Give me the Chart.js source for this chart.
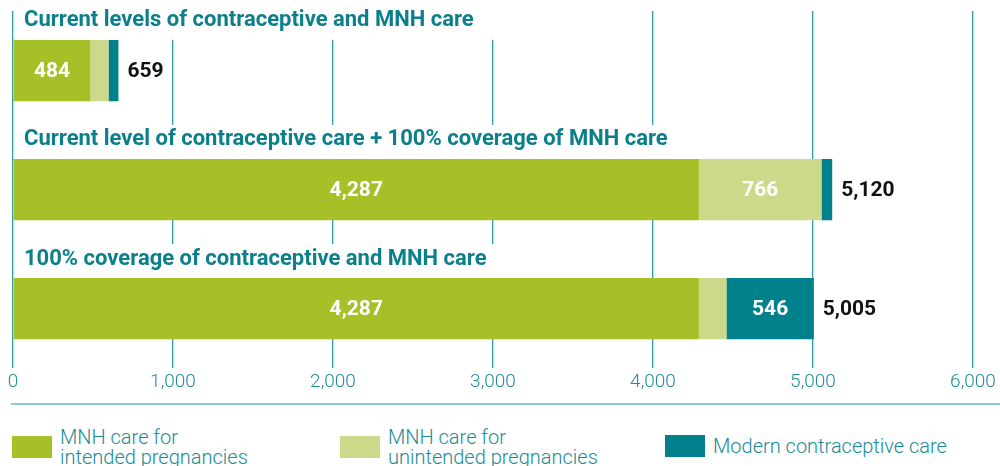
<!DOCTYPE html>
<html>
<head>
<meta charset="utf-8">
<script src="https://cdn.jsdelivr.net/npm/chart.js@4"></script>
<style>
  html, body { margin: 0; padding: 0; background: #fff; }
  #wrap { position: relative; width: 1000px; height: 466px; overflow: hidden; }
  #box { position: absolute; left: 0; top: 0; width: 1000px; height: 420px; }
  #rule { position: absolute; left: 11px; top: 403px; width: 989px; height: 2px; background: #8ccad1; }
  .leg { position: absolute; top: 427px; display: flex; align-items: center; font-family: Roboto, sans-serif; font-weight: 300; font-size: 20px; line-height: 20px; color: #1a8b96; }
  .leg i { display: block; width: 40px; height: 22px; margin-right: 8px; }
</style>
</head>
<body>
<div id="wrap">
  <div id="box"><canvas id="chart"></canvas></div>
  <div id="rule"></div>
  <div id="legend"></div>
</div>
<script>
// values
const categories = [
  'Current levels of contraceptive and MNH care',
  'Current level of contraceptive care + 100% coverage of MNH care',
  '100% coverage of contraceptive and MNH care'
];
const intended      = [484, 4287, 4287];
const unintended    = [113, 766, 172];
const contraceptive = [62, 67, 546];
const totals        = [659, 5120, 5005];
const xTicks        = [0, 1000, 2000, 3000, 4000, 5000, 6000];
const seriesNames = [
  ['MNH care for', 'intended pregnancies'],
  ['MNH care for', 'unintended pregnancies'],
  ['Modern contraceptive care']
];

const GREEN  = '#a6c027';
const LIGHT  = '#ccd98a';
const TEAL   = '#00818b';
const INK    = '#0b7f8a';
const GRID   = '#2a9ba6';
const FONT   = 'Roboto, sans-serif';

const fmt = (v) => v.toLocaleString('en-US');

// titles above each bar, on a white band so the grid stops behind them
const barTitles = {
  id: 'barTitles',
  afterDatasetsDraw(chart) {
    const ctx = chart.ctx;
    const meta = chart.getDatasetMeta(0);
    ctx.save();
    ctx.font = 'bold 22px ' + FONT;
    ctx.textBaseline = 'middle';
    ctx.textAlign = 'left';
    meta.data.forEach((bar, i) => {
      const top = bar.y - bar.height / 2;
      const y = top - 20;
      const w = ctx.measureText(categories[i]).width;
      ctx.fillStyle = '#fff';
      ctx.fillRect(16, top - 34, w + 30, 34);
      ctx.fillStyle = INK;
      ctx.fillText(categories[i], 24, y + 1);
    });
    ctx.restore();
  }
};

// white values inside wide segments, black totals at the bar end
const barValues = {
  id: 'barValues',
  afterDatasetsDraw(chart) {
    const ctx = chart.ctx;
    ctx.save();
    ctx.font = 'bold 21px ' + FONT;
    ctx.textBaseline = 'middle';
    chart.data.datasets.forEach((ds, d) => {
      chart.getDatasetMeta(d).data.forEach((bar, i) => {
        if (bar.x - bar.base < 40) return;
        ctx.fillStyle = '#fff';
        ctx.textAlign = 'center';
        ctx.fillText(fmt(ds.data[i]), (bar.x + bar.base) / 2, bar.y + 1);
      });
    });
    const last = chart.getDatasetMeta(chart.data.datasets.length - 1);
    last.data.forEach((bar, i) => {
      ctx.fillStyle = '#111';
      ctx.textAlign = 'left';
      ctx.fillText(fmt(totals[i]), bar.x + 9, bar.y + 1);
    });
    ctx.restore();
  }
};

const colors = [GREEN, LIGHT, TEAL];

new Chart(document.getElementById('chart'), {
  type: 'bar',
  data: {
    labels: categories,
    datasets: [
      { label: seriesNames[0].join(' '), data: intended,      backgroundColor: GREEN },
      { label: seriesNames[1].join(' '), data: unintended,    backgroundColor: LIGHT },
      { label: seriesNames[2].join(' '), data: contraceptive, backgroundColor: TEAL }
    ]
  },
  options: {
    indexAxis: 'y',
    responsive: true,
    maintainAspectRatio: false,
    animation: false,
    layout: { padding: { left: 13, right: 27, top: 11, bottom: 23 } },
    datasets: { bar: { categoryPercentage: 1, barPercentage: 0.515, borderWidth: 0 } },
    plugins: { legend: { display: false }, tooltip: { enabled: false } },
    scales: {
      x: {
        stacked: true,
        min: 0,
        max: 6000,
        afterBuildTicks: (axis) => { axis.ticks = xTicks.map((v) => ({ value: v })); },
        grid: { color: GRID, lineWidth: 1.3, drawTicks: false },
        border: { display: false },
        ticks: {
          padding: 3,
          color: '#1f8e99',
          font: { family: FONT, size: 19, weight: '300' },
          callback: (v) => fmt(v)
        }
      },
      y: { stacked: true, display: false }
    }
  },
  plugins: [barTitles, barValues]
});

// legend below the rule
const legendLeft = [12, 340, 665];
const legend = document.getElementById('legend');
seriesNames.forEach((lines, i) => {
  const item = document.createElement('div');
  item.className = 'leg';
  item.style.left = legendLeft[i] + 'px';
  if (lines.length === 1) item.style.top = '435px';
  const sw = document.createElement('i');
  sw.style.background = colors[i];
  const txt = document.createElement('span');
  txt.innerHTML = lines.join('<br>');
  item.appendChild(sw);
  item.appendChild(txt);
  legend.appendChild(item);
});
</script>
</body>
</html>
